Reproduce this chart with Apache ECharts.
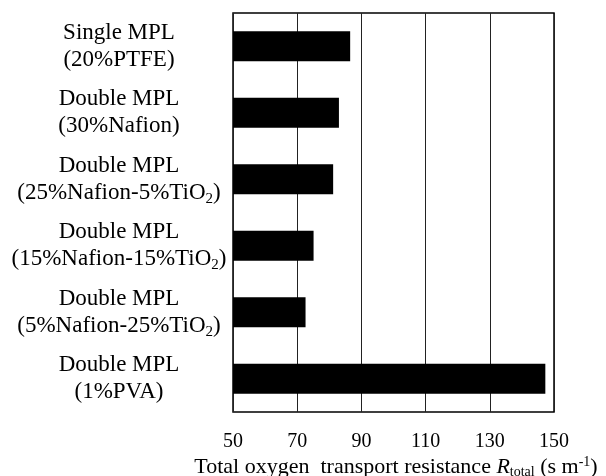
<!DOCTYPE html>
<html>
<head>
<meta charset="utf-8">
<script src="https://cdn.jsdelivr.net/npm/echarts@6/dist/echarts.min.js"></script>
<style>
  html, body { margin: 0; padding: 0; background: #fff; }
  #chart { width: 606px; height: 476px; }
</style>
</head>
<body>
<div id="chart"></div>
<script>
// MPL configurations (top to bottom), two-line labels
const categoryLine1 = ['Single MPL', 'Double MPL', 'Double MPL', 'Double MPL', 'Double MPL', 'Double MPL'];
const categoryLine2 = ['(20%PTFE)', '(30%Nafion)', '(25%Nafion-5%TiO2)', '(15%Nafion-15%TiO2)', '(5%Nafion-25%TiO2)', '(1%PVA)'];
// Total oxygen transport resistance, s m^-1
const resistance = [86.5, 83.0, 81.2, 75.1, 72.6, 147.3];
const xTicks = [50, 70, 90, 110, 130, 150];

const FONT = '"Liberation Serif", "Times New Roman", serif';
const categories = categoryLine1.map((_, i) => i);

// Render "TiO2" with a subscript 2 in rich text
function richLine2(s) {
  const m = s.match(/^(.*TiO)2(\))$/);
  if (m) return '{a|' + m[1] + '}{s|2}{a|' + m[2] + '}';
  return '{a|' + s + '}';
}

const chart = echarts.init(document.getElementById('chart'), null, { renderer: 'canvas' });
chart.setOption({
  animation: false,
  backgroundColor: '#fff',
  grid: {
    left: 233, right: 52, top: 13, bottom: 64,
    containLabel: false,
    outerBoundsMode: 'none',
    show: true, borderColor: '#000', borderWidth: 1.5, backgroundColor: 'transparent'
  },
  xAxis: {
    type: 'value',
    min: xTicks[0], max: xTicks[xTicks.length - 1], interval: 20,
    axisLine: { show: false },
    axisTick: { show: false },
    splitLine: { show: true, lineStyle: { color: '#222', width: 1 } },
    axisLabel: { color: '#000', fontFamily: FONT, fontSize: 20, margin: 20 },
    name: 'Total oxygen  transport resistance {i|R}{s|total} (s m{p|-1})',
    nameLocation: 'middle',
    nameGap: 43,
    nameMoveOverlap: false,
    nameTextStyle: {
      color: '#000', fontFamily: FONT, fontSize: 22,
      padding: [0, 0, 0, 5],
      rich: {
        i: { fontFamily: FONT, fontSize: 22, fontStyle: 'italic', color: '#000' },
        s: { fontFamily: FONT, fontSize: 14, color: '#000', padding: [10, 0, 0, 0] },
        p: { fontFamily: FONT, fontSize: 14, color: '#000', padding: [0, 0, 10, 0] }
      }
    }
  },
  yAxis: {
    type: 'category',
    data: categories,
    inverse: true,
    axisLine: { show: false },
    axisTick: { show: false },
    splitLine: { show: false },
    axisLabel: {
      align: 'center',
      margin: 114,
      formatter: (v, i) => '{a|' + categoryLine1[i] + '}\n' + richLine2(categoryLine2[i]),
      rich: {
        a: { fontFamily: FONT, fontSize: 23, color: '#000', lineHeight: 27 },
        s: { fontFamily: FONT, fontSize: 15, color: '#000', padding: [12, 0, 0, 0], lineHeight: 27 }
      }
    }
  },
  series: [{
    type: 'bar',
    data: resistance,
    barWidth: 30,
    itemStyle: { color: '#000' }
  }]
});
</script>
</body>
</html>
